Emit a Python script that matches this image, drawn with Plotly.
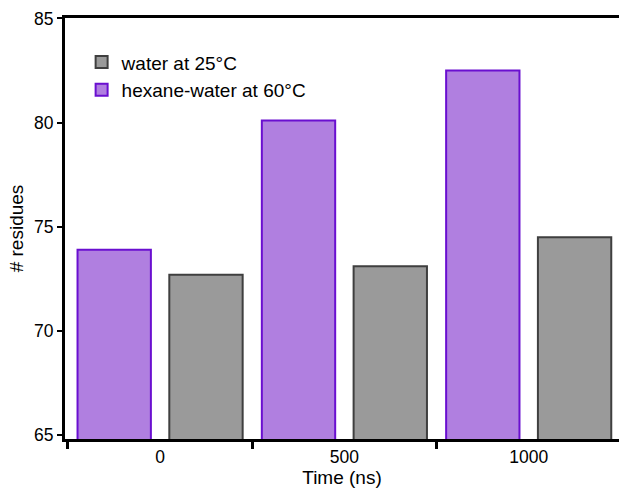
import plotly.graph_objects as go

# Time points (ns) and number of residues for each condition
times = ["0", "500", "1000"]
water_25C = [72.7, 73.1, 74.5]
hexane_water_60C = [73.9, 80.1, 82.5]

FONT = "Liberation Sans, Arial, sans-serif"

fig = go.Figure()

fig.add_trace(go.Bar(
    x=times, y=water_25C, name="water at 25°C",
    marker=dict(color="#9a9a9a", line=dict(color="#3f3f3f", width=2)),
    width=0.398, offset=0.05,
))
fig.add_trace(go.Bar(
    x=times, y=hexane_water_60C, name="hexane-water at 60°C",
    marker=dict(color="#b07fe0", line=dict(color="#6a0fd0", width=2)),
    width=0.398, offset=-0.448,
))

fig.update_layout(
    width=619, height=488,
    margin=dict(l=65, r=0, t=18, b=49),
    paper_bgcolor="white", plot_bgcolor="white",
    font=dict(family=FONT, size=18, color="black"),
    barmode="overlay",
    showlegend=True,
    legend=dict(
        x=0.03, y=0.94, xanchor="left", yanchor="top",
        bgcolor="rgba(0,0,0,0)", font=dict(size=19, family=FONT),
        itemclick=False, tracegroupgap=0,
    ),
    xaxis=dict(
        type="category",
        range=[-0.516, 2.49],
        showline=True, linecolor="black", linewidth=3, mirror=True,
        showgrid=False, zeroline=False,
        ticks="outside", tickson="boundaries", ticklen=7, tickwidth=3, tickcolor="black",
        tickfont=dict(size=17.5, family=FONT),
        title=dict(text="Time (ns)", font=dict(size=19, family=FONT), standoff=2),
    ),
    yaxis=dict(
        range=[64.81, 85.02],
        tickvals=[65, 70, 75, 80, 85],
        showline=True, linecolor="black", linewidth=3,
        showgrid=False, zeroline=False,
        ticks="outside", ticklen=5, tickwidth=2, tickcolor="black",
        tickfont=dict(size=17.5, family=FONT),
        title=dict(text="# residues", font=dict(size=19, family=FONT), standoff=6),
    ),
)

fig.write_html("out.html")
